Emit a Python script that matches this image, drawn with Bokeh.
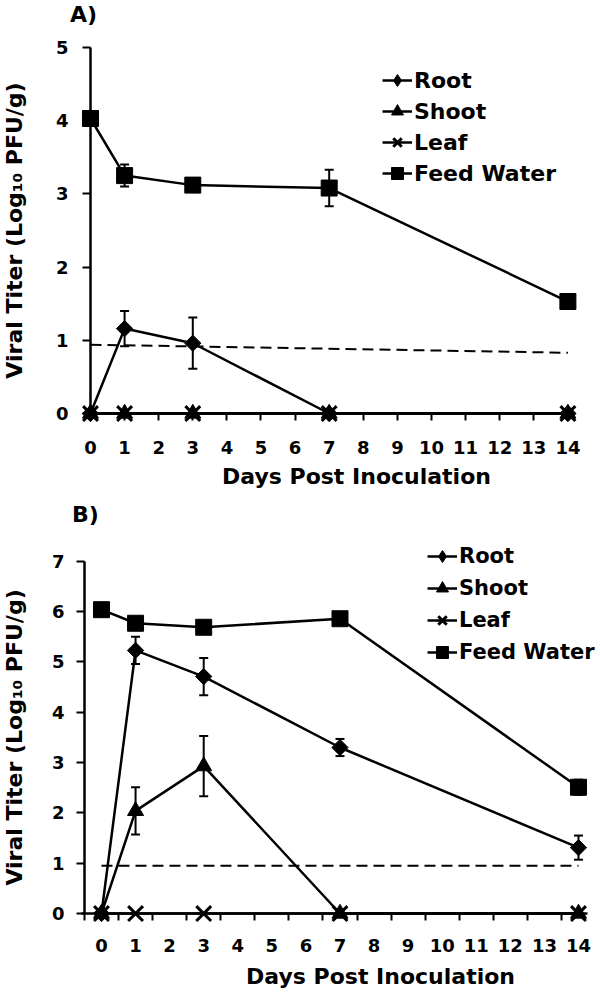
import math
from bokeh.plotting import figure
from bokeh.models import (Range1d, FixedTicker, Legend, LegendItem, Label,
                          Whisker, TeeHead, ColumnDataSource)
from bokeh.layouts import column
from bokeh.embed import file_html
from bokeh.resources import INLINE

# ---------------- data ----------------
days = [0, 1, 3, 7, 14]
x_ticks = list(range(0, 15))

# Panel A
a_root = [0, 1.16, 0.96, 0, 0]
a_root_err = [0, 0.24, 0.35, 0, 0]
a_shoot = [0, 0, 0, 0, 0]
a_leaf = [0, 0, 0, 0, 0]
a_feed = [4.03, 3.25, 3.12, 3.08, 1.53]
a_feed_err = [0, 0.15, 0.03, 0.25, 0.03]
a_lod_days = [0, 14]
a_lod = [0.94, 0.83]
a_y_ticks = [0, 1, 2, 3, 4, 5]

# Panel B
b_root = [0, 5.23, 4.71, 3.30, 1.31]
b_root_err = [0, 0.27, 0.37, 0.17, 0.24]
b_shoot = [0, 2.04, 2.93, 0, 0]
b_shoot_err = [0, 0.47, 0.60, 0, 0]
b_leaf = [0, 0, 0, 0, 0]
b_feed = [6.04, 5.77, 5.69, 5.86, 2.51]
b_feed_err = [0, 0.04, 0.04, 0.04, 0.15]
b_lod_days = [0, 14]
b_lod = [0.95, 0.95]
b_y_ticks = [0, 1, 2, 3, 4, 5, 6, 7]

series_names = ["Root", "Shoot", "Leaf", "Feed Water"]
x_title = "Days Post Inoculation"
y_title = "Viral Titer (Log\u2081\u2080 PFU/g)"

FONT = "DejaVu Sans"
NAN = float("nan")


def style_axes(p):
    for ax in (p.xaxis[0], p.yaxis[0]):
        ax.axis_line_width = 2.5
        ax.axis_line_color = "black"
        ax.major_tick_line_width = 2
        ax.major_tick_line_color = "black"
        ax.minor_tick_line_width = 2
        ax.minor_tick_line_color = "black"
        ax.major_tick_in = 0
        ax.minor_tick_in = 0
        ax.major_label_text_font = FONT
        ax.major_label_text_font_style = "bold"
        ax.major_label_text_font_size = "18px"
        ax.major_label_text_color = "black"
        ax.major_label_standoff = 14
    p.grid.visible = False
    p.outline_line_color = None


def draw_series(p, x, ys, errs):
    markers = [("square", 11.5, math.pi / 4), ("triangle", 16, 0),
               ("x", 21, 0), ("square", 16, 0)]
    order = [3, 0, 1, 2]
    made = {}
    for i in order:
        y = ys[i]
        src = ColumnDataSource(dict(x=x, y=y))
        ln = p.line("x", "y", source=src, line_color="black", line_width=2.5)
        mk, sz, ang = markers[i]
        if mk == "x":
            sc = p.scatter("x", "y", source=src, marker="x", size=sz,
                           line_color="black", line_width=3)
        else:
            sc = p.scatter("x", "y", source=src, marker=mk, size=sz, angle=ang,
                           fill_color="black", line_color="black", line_width=1)
        if i == 0:
            # legend-only diamond (legend glyphs ignore marker angle)
            sc = p.scatter(x=[NAN], y=[NAN], marker="diamond", size=sz,
                           fill_color="black", line_color="black", line_width=1)
        made[i] = (ln, sc)
        e = errs[i]
        if e is not None:
            xs = [xx for xx, ee in zip(x, e) if ee > 0]
            up = [yy + ee for yy, ee in zip(y, e) if ee > 0]
            lo = [yy - ee for yy, ee in zip(y, e) if ee > 0]
            wsrc = ColumnDataSource(dict(base=xs, upper=up, lower=lo))
            w = Whisker(base="base", upper="upper", lower="lower", source=wsrc,
                        line_color="black", line_width=2,
                        upper_head=TeeHead(size=9, line_width=2, line_color="black"),
                        lower_head=TeeHead(size=9, line_width=2, line_color="black"))
            p.add_layout(w)
    return [made[i] for i in range(4)]


def add_legend(p, made, loc, spacing, fsize):
    items = [LegendItem(label=series_names[i], renderers=list(made[i])) for i in range(4)]
    lg = Legend(items=items, location=loc, glyph_width=30, glyph_height=30,
                label_height=20, label_standoff=2, padding=0, spacing=spacing,
                margin=0,
                label_text_font=FONT, label_text_font_style="bold",
                label_text_font_size=fsize, label_text_color="black",
                border_line_color=None, background_fill_alpha=0)
    p.add_layout(lg, "center")


def add_label(p, x, y, text, angle=0.0, size="22px"):
    p.add_layout(Label(x=x, y=y, text=text, angle=angle, text_align="center",
                       text_baseline="middle", text_font=FONT,
                       text_font_style="bold", text_font_size=size,
                       text_color="black"))


# ---------------- Panel A ----------------
pA = figure(width=600, height=498, output_backend="svg", toolbar_location=None,
            x_range=Range1d(-2.639, 14.956), y_range=Range1d(-1.161, 5.642),
            min_border=0, background_fill_color="white")
style_axes(pA)
pA.xaxis.ticker = FixedTicker(ticks=x_ticks)
pA.yaxis.ticker = FixedTicker(ticks=a_y_ticks)
pA.xaxis.fixed_location = 0
pA.yaxis.fixed_location = 0
pA.xaxis.bounds = (0, 14)
pA.yaxis.bounds = (0, 5)
pA.xaxis.major_tick_out = 7
pA.yaxis.major_tick_out = 8
pA.xaxis.minor_tick_out = 0
pA.yaxis.minor_tick_out = 0
pA.xaxis.major_label_standoff = 20

pA.line(a_lod_days, a_lod, line_color="black", line_width=2, line_dash="11 6")
madeA = draw_series(pA, days, [a_root, a_shoot, a_leaf, a_feed],
                    [a_root_err, None, None, a_feed_err])
add_legend(pA, madeA, (382, 310), 1, "22px")
add_label(pA, 7.8, -0.854, x_title)
add_label(pA, -2.23, 2.5, y_title, angle=math.pi / 2)
add_label(pA, -0.205, 5.444, "A)")

# ---------------- Panel B ----------------
pB = figure(width=600, height=495, output_backend="svg", toolbar_location=None,
            x_range=Range1d(-2.964, 14.646), y_range=Range1d(-1.590, 8.25),
            min_border=0, background_fill_color="white")
style_axes(pB)
pB.xaxis.ticker = FixedTicker(ticks=x_ticks,
                              minor_ticks=[t - 0.5 for t in x_ticks])
pB.yaxis.ticker = FixedTicker(ticks=b_y_ticks)
pB.xaxis.fixed_location = 0
pB.yaxis.fixed_location = -0.5
pB.xaxis.bounds = (-0.6, 14.25)
pB.yaxis.bounds = (0, 7)
pB.xaxis.major_tick_out = 0
pB.xaxis.minor_tick_out = 7
pB.yaxis.major_tick_out = 8
pB.yaxis.minor_tick_out = 0
pB.xaxis.major_label_standoff = 18
pB.yaxis.major_label_standoff = 12

pB.line(b_lod_days, b_lod, line_color="black", line_width=2, line_dash="11 6")
madeB = draw_series(pB, days, [b_root, b_shoot, b_leaf, b_feed],
                    [b_root_err, b_shoot_err, None, b_feed_err])
add_legend(pB, madeB, (427, 326), 2, "21px")
add_label(pB, 8.19, -1.252, x_title)
add_label(pB, -2.554, 3.5, y_title, angle=math.pi / 2)
add_label(pB, -0.47, 7.93, "B)")

layout = column(pA, pB)
open("out.html", "w").write(file_html(layout, INLINE))
